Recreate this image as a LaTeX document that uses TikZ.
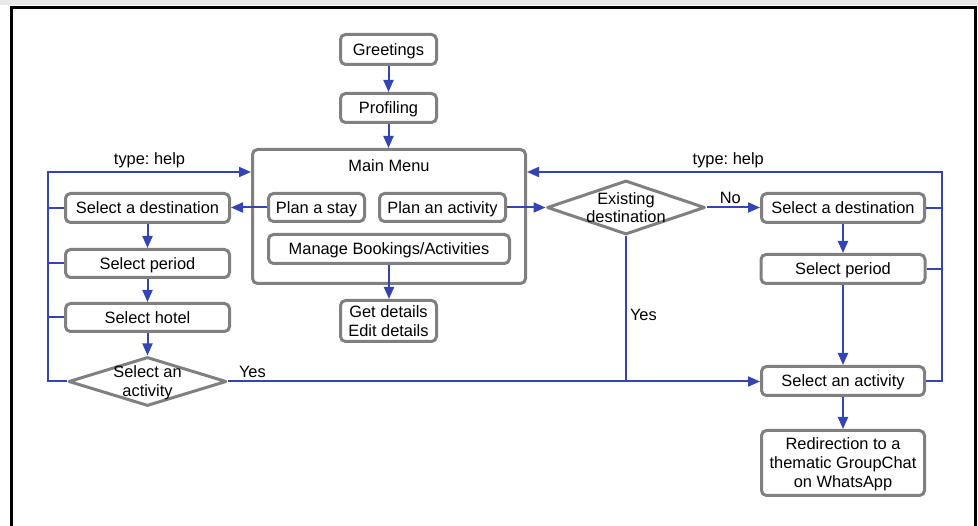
\documentclass[tikz,border=0pt]{standalone}
\usepackage{fontspec}
\setmainfont{Liberation Sans}
\frenchspacing
\usetikzlibrary{arrows.meta,shapes.geometric}
\definecolor{lnblue}{RGB}{52,68,178}
\definecolor{bxgray}{RGB}{128,128,128}
\begin{document}
\begin{tikzpicture}[x=1pt,y=-1pt,
  every node/.style={font=\fontsize{16.4}{19}\selectfont},
  box/.style={draw=bxgray, line width=3pt, rounded corners=5pt, fill=white, align=center, inner sep=0pt, text depth=0pt},
  dia/.style={draw=bxgray, line width=3pt, diamond, inner sep=0pt, line join=round, fill=white},
  dtext/.style={align=center, text depth=0pt, inner sep=0pt},
  conn/.style={draw=lnblue, line width=2pt},
  arr/.style={conn, -{Triangle[length=12pt,width=10pt]}},
  lbl/.style={inner sep=3pt}]
\useasboundingbox (0,0) rectangle (978,526);
\fill[black!9] (0,0) rectangle (978,5.5);
\draw[line width=3pt] (11.7,526) -- (11.7,7.2) -- (975.5,7.2) -- (975.5,526);

% nodes
\node[box, minimum width=96pt, minimum height=30pt] (greet) at (388.5,49.5) {Greetings};
\node[box, minimum width=96pt, minimum height=29pt] (prof) at (388.5,108) {Profiling};
\node[box, minimum width=273pt, minimum height=134pt,
      label={[anchor=center,yshift=-18pt]north:Main Menu}] (main) at (389,216.5) {};
\node[box, minimum width=96pt, minimum height=28pt] (stay) at (316.5,207.5) {Plan a stay};
\node[box, minimum width=126pt, minimum height=28pt] (pact) at (442.5,207.5) {Plan an activity};
\node[box, minimum width=241pt, minimum height=29pt] (manage) at (389,249) {Manage Bookings/Activities};
\node[box, minimum width=96pt, minimum height=41pt] (details) at (388.5,321) {Get details\\Edit details};

\node[box, minimum width=164pt, minimum height=29pt] (ldest) at (147.5,208) {Select a destination};
\node[box, minimum width=164pt, minimum height=28pt] (lper) at (147.5,263.5) {Select period};
\node[box, minimum width=164pt, minimum height=28pt] (lhot) at (147.5,317.5) {Select hotel};
\node[dia, minimum width=158pt, minimum height=49pt,
      label={[dtext]center:Select an\\activity}] (ldia) at (147.5,381.5) {};

\node[dia, minimum width=158pt, minimum height=54pt,
      label={[dtext,font=\fontsize{16.4}{18}\selectfont]center:Existing\\destination}] (exist) at (626,207.5) {};

\node[box, minimum width=163pt, minimum height=29pt] (rdest) at (843,208) {Select a destination};
\node[box, minimum width=164pt, minimum height=29pt] (rper) at (843,269) {Select period};
\node[box, minimum width=163pt, minimum height=29pt] (ract) at (843,381) {Select an activity};
\node[box, minimum width=163pt, minimum height=65pt] (redir) at (843,463) {Redirection to a\\thematic GroupChat\\on WhatsApp};

\coordinate (lbl) at (48,381.5);
\coordinate (ltl) at (48,172);
\coordinate (rbl) at (942,381);
\coordinate (rtl) at (942,172);

% connectors
\draw[arr] (greet) -- (prof);
\draw[arr] (prof.south) -- (prof.south |- main.north);
\draw[arr] (manage.south) -- (manage.south |- details.north);
\draw[arr] (stay.west) -- (stay.west -| ldest.east);
\draw[arr] (ldest) -- (lper);
\draw[arr] (lper) -- (lhot);
\draw[arr] (lhot) -- (ldia);
\draw[arr] (ldia.west) -- (lbl) -- (ltl) -- node[midway, above, lbl] {type: help} (ltl -| main.west);
\draw[conn] (ldest.west) -- (ldest.west -| lbl);
\draw[conn] (lper.west) -- (lper.west -| lbl);
\draw[conn] (lhot.west) -- (lhot.west -| lbl);
\draw[arr] (ldia.east) -- node[at start, anchor=south west, inner xsep=10pt, inner ysep=3pt] {Yes} (ldia.east -| ract.west);

\draw[arr] (pact.east) -- (pact.east -| exist.west);
\draw[arr] (exist.east) -- node[midway, above, lbl, xshift=-3pt] {No} (exist.east -| rdest.west);
\draw[conn] (exist.south) -- node[pos=0.545, anchor=west, inner xsep=3pt] {Yes} (exist.south |- ldia.east);

\draw[arr] (rdest) -- (rper);
\draw[arr] (rper) -- (ract);
\draw[arr] (ract) -- (redir);
\draw[arr] (ract.east) -- (rbl) -- (rtl) -- node[pos=0.515, above, lbl] {type: help} (rtl -| main.east);
\draw[conn] (rdest.east) -- (rdest.east -| rbl);
\draw[conn] (rper.east) -- (rper.east -| rbl);
\end{tikzpicture}
\end{document}
